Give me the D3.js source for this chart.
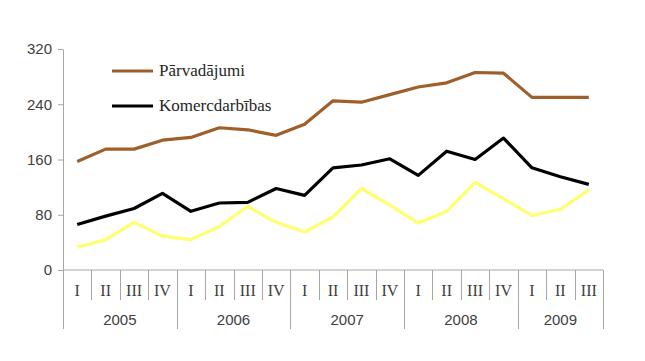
<!DOCTYPE html>
<html>
<head>
<meta charset="utf-8">
<script src="https://cdn.jsdelivr.net/npm/d3@7"></script>
<style>
  body { margin: 0; background: #fff; }
  svg { display: block; }
</style>
</head>
<body>
<div id="chart"></div>
<script>
// data
const quarters = ["I","II","III","IV","I","II","III","IV","I","II","III","IV","I","II","III","IV","I","II","III"]
const years = ["2005","2006","2007","2008","2009"]
const quartersInYear = [4, 4, 4, 4, 3]
const yTicks = [0, 80, 160, 240, 320]

const parvadajumi = [157,175,175,188,192,206,203,195,211,245,243,254,265,271,286,285,250,250,250]
const komercdarbibas = [66,78,89,111,85,97,98,118,108,148,152,161,137,172,160,191,148,135,124]
const tresais = [33,44,69,49,44,63,92,69,55,77,118,94,68,85,127,103,79,88,116]

const seriesList = [
    {name: "Pārvadājumi", values: parvadajumi, color: "#9f5f2a"},
    {name: "Komercdarbības", values: komercdarbibas, color: "#000000"},
    {name: "", values: tresais, color: "#ffff70"}
]

const width = 645
const height = 361
const margin = {top: 49, right: 42, bottom: 91, left: 63}

const svg = d3.select("#chart").append("svg")
    .attr("width", width)
    .attr("height", height)

const x = d3.scaleBand()
    .domain(d3.range(quarters.length))
    .range([margin.left, width - margin.right])

const y = d3.scaleLinear()
    .domain([0, 320])
    .range([height - margin.bottom, margin.top])

const axisColor = "#a6a6a6"
const y0 = y(0)

// y axis
const yAxis = svg.append("g")
    .attr("transform", `translate(${margin.left},0)`)
    .call(d3.axisLeft(y).tickValues(yTicks).tickSize(5).tickSizeOuter(0).tickPadding(6))
yAxis.select(".domain").attr("stroke", axisColor)
yAxis.selectAll(".tick line").attr("stroke", axisColor)
yAxis.selectAll(".tick text")
    .attr("fill", "#404040")
    .style("font-family", "'Liberation Sans', Arial, sans-serif")
    .style("font-size", "15px")

// x axis: baseline + quarter / year separators
const xg = svg.append("g")
xg.append("line")
    .attr("x1", margin.left).attr("x2", width - margin.right)
    .attr("y1", y0).attr("y2", y0)
    .attr("stroke", axisColor)

const yearStarts = []
let acc = 0
quartersInYear.forEach(n => { yearStarts.push(acc); acc += n })

d3.range(quarters.length + 1).forEach(i => {
    const xx = i < quarters.length ? x(i) : x(quarters.length - 1) + x.bandwidth()
    const isYear = yearStarts.includes(i) || i === quarters.length
    xg.append("line")
        .attr("x1", Math.round(xx) + 0.5).attr("x2", Math.round(xx) + 0.5)
        .attr("y1", y0).attr("y2", isYear ? 329 : 300)
        .attr("stroke", axisColor)
})

xg.selectAll(".qlabel")
    .data(quarters)
    .enter().append("text")
    .attr("class", "qlabel")
    .attr("x", (d, i) => x(i) + x.bandwidth() / 2)
    .attr("y", 296)
    .attr("text-anchor", "middle")
    .attr("fill", "#404040")
    .style("font-family", "'Liberation Serif', 'Times New Roman', serif")
    .style("font-size", "16px")
    .text(d => d)

xg.selectAll(".ylabel")
    .data(years)
    .enter().append("text")
    .attr("class", "ylabel")
    .attr("x", (d, i) => {
        const s = yearStarts[i]
        const e = s + quartersInYear[i] - 1
        return (x(s) + x(e) + x.bandwidth()) / 2
    })
    .attr("y", 325)
    .attr("text-anchor", "middle")
    .attr("fill", "#404040")
    .style("font-family", "'Liberation Sans', Arial, sans-serif")
    .style("font-size", "15px")
    .text(d => d)

// lines
const line = d3.line()
    .x((d, i) => x(i) + x.bandwidth() / 2)
    .y(d => y(d))

// draw yellow first, then black, brown on top
seriesList.slice().reverse().forEach(s => {
    svg.append("path")
        .datum(s.values)
        .attr("fill", "none")
        .attr("stroke", s.color)
        .attr("stroke-width", 3.2)
        .attr("stroke-linejoin", "round")
        .attr("d", line)
})

// legend
const legend = svg.append("g")
seriesList.filter(s => s.name).forEach((s, i) => {
    const ly = 71 + i * 35
    legend.append("line")
        .attr("x1", 112).attr("x2", 153)
        .attr("y1", ly).attr("y2", ly)
        .attr("stroke", s.color)
        .attr("stroke-width", 3.2)
    legend.append("text")
        .attr("x", 159)
        .attr("y", ly + 5)
        .attr("fill", "#262626")
        .style("font-family", "'Liberation Serif', 'Times New Roman', serif")
        .style("font-size", "17px")
        .text(s.name)
})
</script>
</body>
</html>
